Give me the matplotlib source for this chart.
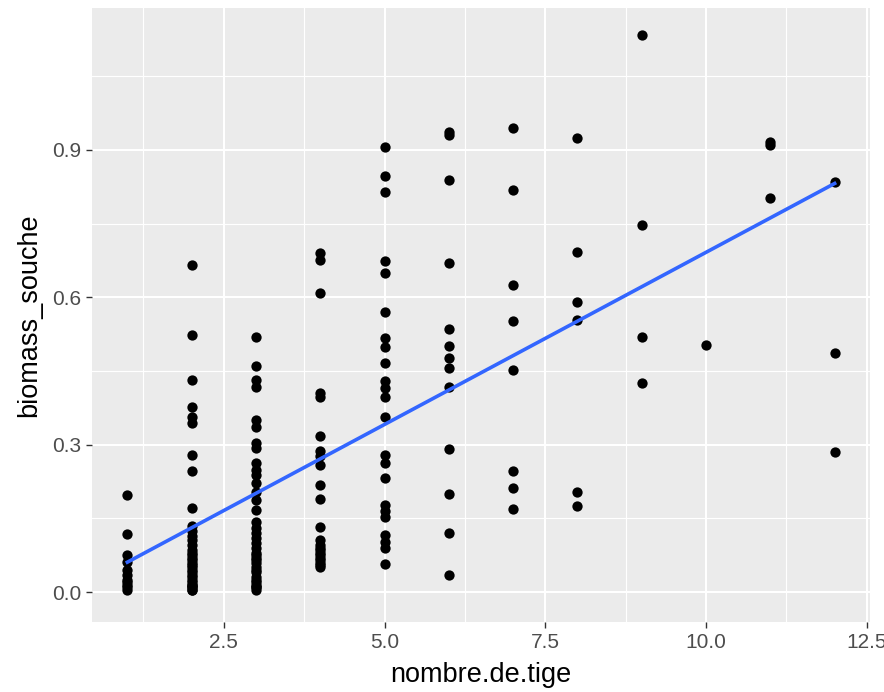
import numpy as np
import matplotlib
matplotlib.use("Agg")
import matplotlib.pyplot as plt

plt.rcParams['font.family'] = ['Liberation Sans', 'DejaVu Sans']

# values, one list per stem count
biomass_by_tige = {
    1: [0.198, 0.118, 0.075, 0.062, 0.045, 0.035, 0.025, 0.02, 0.015,
        0.01, 0.005],
    2: [0.665, 0.523, 0.432, 0.377, 0.357, 0.344, 0.279, 0.247, 0.171,
        0.135, 0.125, 0.115, 0.105, 0.095, 0.085, 0.08, 0.075, 0.07, 0.065,
        0.06, 0.055, 0.05, 0.045, 0.04, 0.035, 0.03, 0.025, 0.02, 0.015,
        0.015, 0.01, 0.01, 0.005, 0.005],
    3: [0.52, 0.46, 0.432, 0.418, 0.35, 0.337, 0.303, 0.293, 0.262, 0.249,
        0.238, 0.222, 0.204, 0.187, 0.166, 0.143, 0.13, 0.12, 0.11, 0.1,
        0.09, 0.08, 0.075, 0.07, 0.065, 0.06, 0.05, 0.045, 0.04, 0.03,
        0.025, 0.02, 0.015, 0.01, 0.01, 0.005],
    4: [0.69, 0.675, 0.609, 0.405, 0.398, 0.318, 0.288, 0.277, 0.259, 0.218,
        0.189, 0.133, 0.105, 0.095, 0.09, 0.085, 0.08, 0.075, 0.07, 0.065,
        0.06, 0.055, 0.05],
    5: [0.906, 0.846, 0.815, 0.674, 0.649, 0.571, 0.517, 0.498, 0.466, 0.43,
        0.415, 0.398, 0.356, 0.279, 0.262, 0.232, 0.177, 0.164, 0.153, 0.116,
        0.102, 0.089, 0.058],
    6: [0.937, 0.93, 0.839, 0.669, 0.535, 0.50, 0.476, 0.456, 0.418, 0.291,
        0.2, 0.121, 0.035],
    7: [0.944, 0.819, 0.625, 0.551, 0.452, 0.247, 0.211, 0.169],
    8: [0.924, 0.692, 0.59, 0.554, 0.204, 0.176],
    9: [1.134, 0.747, 0.519, 0.425],
    10: [0.503],
    11: [0.917, 0.910, 0.803],
    12: [0.834, 0.487, 0.286],
}

nombre_de_tige = np.array([k for k, v in biomass_by_tige.items() for _ in v], dtype=float)
biomass_souche = np.array([y for v in biomass_by_tige.values() for y in v])

fig = plt.figure(figsize=(8.84, 6.92), dpi=100)
ax = fig.add_axes([92 / 884, 70 / 692, 778 / 884, 614 / 692])
ax.set_facecolor('#EBEBEB')

ax.set_xlim(0.45, 12.55)
ax.set_ylim(-0.061, 1.189)
ax.set_xticks([2.5, 5.0, 7.5, 10.0, 12.5])
ax.set_xticklabels(['2.5', '5.0', '7.5', '10.0', '12.5'])
ax.set_yticks([0.0, 0.3, 0.6, 0.9])
ax.set_yticklabels(['0.0', '0.3', '0.6', '0.9'])
ax.set_xticks([1.25, 3.75, 6.25, 8.75, 11.25], minor=True)
ax.set_yticks([0.15, 0.45, 0.75, 1.05], minor=True)

ax.grid(which='major', color='white', linewidth=1.5)
ax.grid(which='minor', color='white', linewidth=0.8)
ax.set_axisbelow(True)
for s in ax.spines.values():
    s.set_visible(False)
ax.tick_params(which='major', length=4.3, width=1.0, color='#333333',
               labelcolor='#4D4D4D', labelsize=15, pad=3.5)
ax.tick_params(which='minor', length=0)

ax.scatter(nombre_de_tige, biomass_souche, s=55, color='black', linewidths=0, zorder=3)

# linear fit like geom_smooth(method = "lm", se = FALSE)
slope, intercept = np.polyfit(nombre_de_tige, biomass_souche, 1)
xs = np.linspace(nombre_de_tige.min(), nombre_de_tige.max(), 80)
ax.plot(xs, slope * xs + intercept, color='#3366FF', linewidth=2.6, zorder=4)

ax.set_xlabel('nombre.de.tige', fontsize=19.5, labelpad=7)
ax.set_ylabel('biomass_souche', fontsize=19.5, labelpad=7)

fig.savefig('out.png', dpi=100)
